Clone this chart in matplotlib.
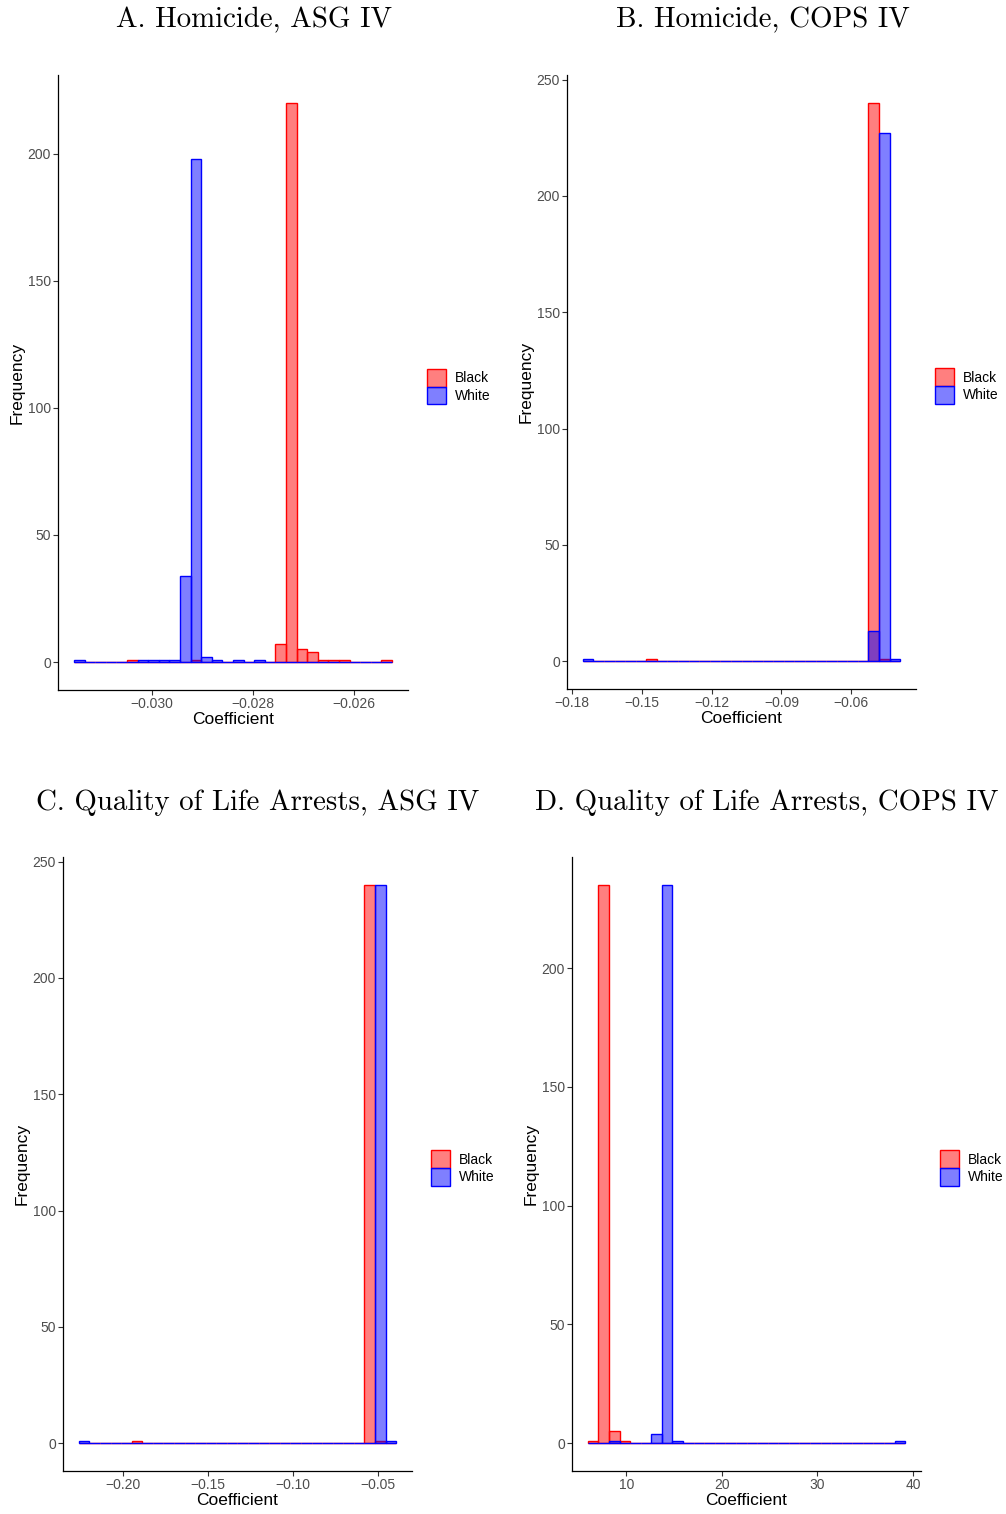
import numpy as np
import matplotlib.pyplot as plt
from matplotlib.patches import Patch
from matplotlib.ticker import MultipleLocator

# histogram bins: left edge of first bin, bin width, 30 bins each
titles = ['A. Homicide, ASG IV', 'B. Homicide, COPS IV',
          'C. Quality of Life Arrests, ASG IV', 'D. Quality of Life Arrests, COPS IV']
bin_start = [-0.031545, -0.17529, -0.22606, 5.96]
bin_width = [0.00021, 0.004543, 0.00623, 1.1076]

black_a = [0,0,0,0,0,1,0,0,0,0,0,1,0,0,0,0,0,0,0,7,220,5,4,1,1,1,0,0,0,1]
white_a = [1,0,0,0,0,0,1,1,1,1,34,198,2,1,0,1,0,1,0,0,0,0,0,0,0,0,0,0,0,0]
black_b = [0,0,0,0,0,0,1,0,0,0,0,0,0,0,0,0,0,0,0,0,0,0,0,0,0,0,0,240,1,0]
white_b = [1,0,0,0,0,0,0,0,0,0,0,0,0,0,0,0,0,0,0,0,0,0,0,0,0,0,0,13,227,1]
black_c = [0,0,0,0,0,1,0,0,0,0,0,0,0,0,0,0,0,0,0,0,0,0,0,0,0,0,0,240,1,0]
white_c = [1,0,0,0,0,0,0,0,0,0,0,0,0,0,0,0,0,0,0,0,0,0,0,0,0,0,0,0,240,1]
black_d = [1,235,5,1,0,0,0,0,0,0,0,0,0,0,0,0,0,0,0,0,0,0,0,0,0,0,0,0,0,0]
white_d = [0,0,1,0,0,0,4,235,1,0,0,0,0,0,0,0,0,0,0,0,0,0,0,0,0,0,0,0,0,1]

black = [black_a, black_b, black_c, black_d]
white = [white_a, white_b, white_c, white_d]

xticks = [[-0.030, -0.028, -0.026],
          [-0.18, -0.15, -0.12, -0.09, -0.06],
          [-0.20, -0.15, -0.10, -0.05],
          [10, 20, 30, 40]]
xfmt = ['{:.3f}', '{:.2f}', '{:.2f}', '{:.0f}']
ystep = 50

# axes boxes in pixels: left, right, top, bottom
W, H = 1006, 1514
boxes = [(58, 408, 75, 690), (567, 916, 75, 689),
         (63, 412, 857, 1471), (572, 921, 857, 1471)]
title_pos = [(254, 20), (763, 20), (258, 803), (767, 803)]

plt.rcParams['font.family'] = ['Liberation Sans', 'DejaVu Sans']
fig = plt.figure(figsize=(W/100, H/100), dpi=100)

red = (1, 0, 0)
blue = (0, 0, 1)

for i in range(4):
    l, r, t, b = boxes[i]
    ax = fig.add_axes([l/W, 1-b/H, (r-l)/W, (b-t)/H])
    n = len(black[i])
    edges = bin_start[i] + bin_width[i]*np.arange(n+1)
    centers = (edges[:-1] + edges[1:]) / 2
    ax.bar(centers, black[i], width=bin_width[i], facecolor=red + (0.5,),
           edgecolor=red, linewidth=1.0)
    ax.bar(centers, white[i], width=bin_width[i], facecolor=blue + (0.5,),
           edgecolor=blue, linewidth=1.0)
    span = edges[-1] - edges[0]
    ax.set_xlim(edges[0] - 0.05*span, edges[-1] + 0.05*span)
    ymax = max(max(black[i]), max(white[i]))
    ax.set_ylim(-0.05*ymax, 1.05*ymax)
    ax.yaxis.set_major_locator(MultipleLocator(ystep))
    ax.set_xticks(xticks[i])
    ax.set_xticklabels([xfmt[i].format(v).replace('-', '\u2212') for v in xticks[i]])
    for s in ['top', 'right']:
        ax.spines[s].set_visible(False)
    for s in ['left', 'bottom']:
        ax.spines[s].set_linewidth(0.9)
        ax.spines[s].set_color('black')
    ax.tick_params(length=3.5, width=0.8, color='#333333', labelcolor='#4D4D4D',
                   labelsize=10, pad=1.5)
    ax.set_xlabel('Coefficient', fontsize=12.5, labelpad=1)
    ax.set_ylabel('Frequency', fontsize=12.5)
    ax.yaxis.set_label_coords(-0.096, 0.5)

    handles = [Patch(facecolor=red + (0.5,), edgecolor=red, linewidth=1.0),
               Patch(facecolor=blue + (0.5,), edgecolor=blue, linewidth=1.0)]
    ax.legend(handles, ['Black', 'White'], loc='center left',
              bbox_to_anchor=(1 + 19/(r-l), 0.5 - 4/(b-t)),
              frameon=False, fontsize=10, handlelength=1.4, handleheight=1.6,
              labelspacing=0.0, handletextpad=0.6, borderpad=0, borderaxespad=0)

    tx, ty = title_pos[i]
    fig.text(tx/W, 1-ty/H, titles[i], family='cmr10', fontsize=20.8,
             ha='center', va='center')

fig.savefig('out.png', dpi=100)
